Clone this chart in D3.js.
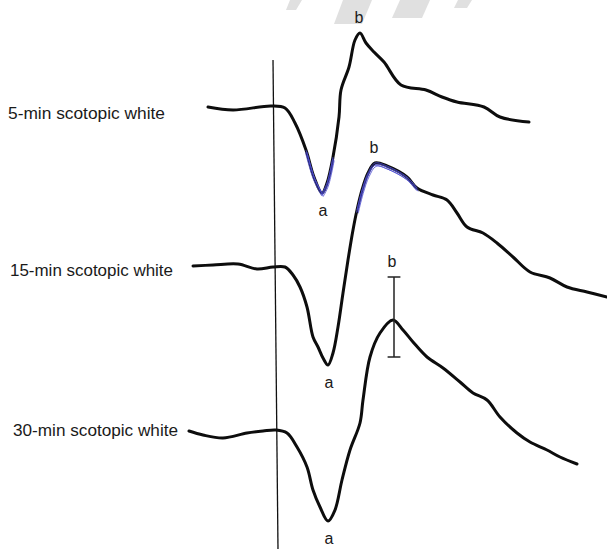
<!DOCTYPE html>
<html>
<head>
<meta charset="utf-8">
<script src="https://cdn.jsdelivr.net/npm/d3@7"></script>
<style>
  html, body { margin: 0; padding: 0; background: #fff; }
  svg { display: block; }
  .lbl { font-family: "Liberation Sans Narrow", "Arial Narrow", "Liberation Sans", Arial, sans-serif; fill: #1a1a1a; }
</style>
</head>
<body>
<div id="chart"></div>
<script>
// time in ms (flash at 0), amplitude in µV relative to each trace's baseline
const traceNames = ['5-min scotopic white', '15-min scotopic white', '30-min scotopic white'];

const trace5 = [
  [-33, 0], [-20.5, -6], [-1.5, 2], [5.5, -2], [10.5, -32], [16, -86], [20, -140],
  [24, -172], [26.5, -152], [29.5, -100], [32.5, -20], [33.5, 34], [37.5, 80],
  [40.5, 134], [43, 148], [46, 128], [50, 110], [55, 90], [63.5, 44], [76, 34],
  [84, 20], [91.5, 10], [105, 0], [113, -20], [127.5, -30]
];

const trace15 = [
  [-40.5, 0], [-30.5, 2], [-18, 4], [-8.5, -6], [-0.5, -2], [5.5, -2], [9.5, -18],
  [13, -42], [16.5, -82], [19.5, -142], [22, -162], [24.5, -184], [27, -198],
  [29.5, -174], [32, -122], [34.5, -54], [37, 12], [39.5, 72], [41.5, 112], [44, 152],
  [47, 186], [50.5, 206], [56.5, 200], [66.5, 178], [71.5, 156], [79.5, 142],
  [86.5, 132], [91.5, 106], [96.5, 78], [104.5, 66], [111.5, 46], [119.5, 18],
  [128, -12], [138, -24], [146.5, -42], [156.5, -52], [166.5, -62]
];

const trace30 = [
  [-42.5, 0], [-35.5, -8], [-25.5, -14], [-13.5, -4], [-5.5, 0], [1, 2], [6.5, -4],
  [11.5, -32], [16.5, -72], [19.5, -118], [23, -152], [27, -180], [30.5, -158],
  [34, -98], [38, -38], [43, 16], [44.5, 62], [48, 148], [53, 196], [59.5, 222],
  [64.5, 202], [69.5, 178], [76.5, 148], [84.5, 126], [93, 98], [99.5, 76],
  [106.5, 62], [113, 28], [121.5, -4], [128, -22], [136.5, -38], [143, -52], [151.5, -66]
];

// a-wave trough and b-wave peak [time, amplitude] for each trace
const aWaves = [[24, -172], [27, -198], [27, -180]];
const bWaves = [[43, 148], [50.5, 206], [59.5, 308]];

// error bar on the 30-min b-wave: [time, low, high]
const bError = [60, 148, 308];

// hand-drawn blue marks: [trace index, t from, t to]
const blueMarks = [[0, 15, 21], [0, 26.5, 28.5], [1, 43, 70]];

const width = 607, height = 549;
const baselines = [107, 266, 431];
const labelY = [119, 276, 436];
const labelW = [157, 163, 165];

const svg = d3.select('#chart').append('svg')
  .attr('width', width)
  .attr('height', height);

const x = d3.scaleLinear().domain([-42.5, 166.5]).range([189, 607]);
const y = d3.scaleLinear().domain([-100, 100]).range([50, -50]);

// faint watermark pieces at the top
const marks = [
  [[290, 0], [302, 0], [296, 10], [286, 10]],
  [[343, 0], [372, 0], [362, 24], [334, 24]],
  [[400, 0], [430, 0], [422, 18], [392, 18]],
  [[458, 0], [472, 0], [467, 8], [454, 8]]
];
svg.append('g').selectAll('polygon').data(marks).join('polygon')
  .attr('points', d => d.join(' '))
  .attr('fill', '#e0e0e0');

// stimulus line
svg.append('line')
  .attr('x1', x(-0.5)).attr('y1', 60)
  .attr('x2', x(2)).attr('y2', height)
  .attr('stroke', '#111').attr('stroke-width', 1.3);

const line = d3.line()
  .x(d => x(d[0]))
  .y(d => y(d[1]))
  .curve(d3.curveCatmullRom.alpha(0.5));

const traces = [trace5, trace15, trace30];

traces.forEach((tr, i) => {
  const g = svg.append('g').attr('transform', `translate(0,${baselines[i]})`);

  g.append('path')
    .datum(tr)
    .attr('d', line)
    .attr('fill', 'none')
    .attr('stroke', '#0d0d0d')
    .attr('stroke-width', 3)
    .attr('stroke-linejoin', 'round')
    .attr('stroke-linecap', 'round');

  blueMarks.filter(m => m[0] === i).forEach(m => {
    const seg = tr.filter(p => p[0] >= m[1] - 3 && p[0] <= m[2] + 3);
    [[0, 0], [0.8, 1.5], [-0.5, 2.6], [1.2, 3.4]].forEach(off => {
      g.append('path')
        .datum(seg)
        .attr('d', line)
        .attr('transform', `translate(${off[0]},${off[1]})`)
        .attr('fill', 'none')
        .attr('stroke', '#4a4ad0')
        .attr('stroke-opacity', 0.8)
        .attr('stroke-width', 1);
    });
  });

  g.append('text')
    .attr('class', 'lbl')
    .attr('x', x(aWaves[i][0]) + 1)
    .attr('y', y(aWaves[i][1]) + 23)
    .attr('text-anchor', 'middle')
    .attr('font-size', 16)
    .text('a');

  g.append('text')
    .attr('class', 'lbl')
    .attr('x', x(bWaves[i][0]) - 1)
    .attr('y', y(bWaves[i][1]) - 10)
    .attr('text-anchor', 'middle')
    .attr('font-size', 16)
    .text('b');

  svg.append('text')
    .attr('class', 'lbl')
    .attr('x', i === 0 ? 8 : (i === 1 ? 10 : 13))
    .attr('y', labelY[i])
    .attr('font-size', 16)
    .attr('textLength', labelW[i])
    .attr('lengthAdjust', 'spacingAndGlyphs')
    .text(traceNames[i]);
});

// error bar on the 30-min trace
const eg = svg.append('g')
  .attr('transform', `translate(0,${baselines[2]})`)
  .attr('stroke', '#222')
  .attr('stroke-width', 1.5);
eg.append('line')
  .attr('x1', x(bError[0])).attr('x2', x(bError[0]))
  .attr('y1', y(bError[1])).attr('y2', y(bError[2]));
[bError[1], bError[2]].forEach(v => {
  eg.append('line')
    .attr('x1', x(bError[0] - 3.2)).attr('x2', x(bError[0] + 3.2))
    .attr('y1', y(v)).attr('y2', y(v));
});
</script>
</body>
</html>
